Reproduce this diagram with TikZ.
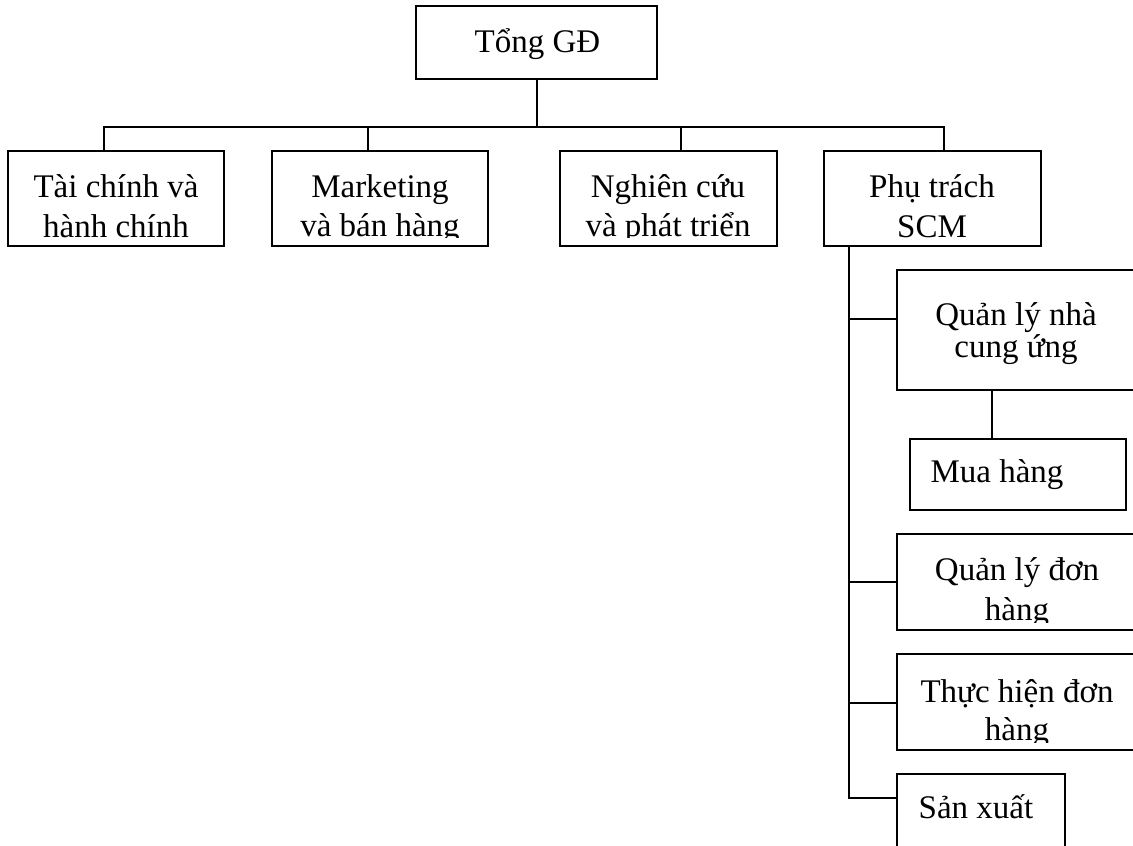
\documentclass[tikz,border=0pt]{standalone}
\usepackage{fontspec}
\setmainfont{Liberation Serif}
\begin{document}
\begin{tikzpicture}[x=1pt,y=-1pt]
\tikzset{
  unit/.style={draw, line width=2pt, rectangle, inner sep=0pt, outer sep=0pt},
  lbl/.style={anchor=base, inner sep=0pt, outer sep=0pt, font=\fontsize{33}{40}\selectfont},
  wire/.style={line width=2pt},
}
\useasboundingbox (0,0) rectangle (1133,846);

% ---- boxes ----
\node[unit, minimum width=241pt, minimum height=73pt] (top)  at (536.5,42.5) {};
\node[unit, minimum width=216pt, minimum height=95pt] (tai)  at (116,198.5) {};
\node[unit, minimum width=216pt, minimum height=95pt] (mkt)  at (380,198.5) {};
\node[unit, minimum width=217pt, minimum height=95pt] (ngh)  at (668.5,198.5) {};
\node[unit, minimum width=217pt, minimum height=95pt] (phu)  at (932.5,198.5) {};
\node[unit, minimum width=240pt, minimum height=120pt] (qlnc) at (1017,330) {};
\node[unit, minimum width=216pt, minimum height=71pt] (mua)  at (1018,474.5) {};
\node[unit, minimum width=240pt, minimum height=96pt] (qldh) at (1017,582) {};
\node[unit, minimum width=240pt, minimum height=96pt] (thuc) at (1017,702) {};
\node[unit, minimum width=168pt, minimum height=96pt] (sx)   at (981,822) {};

% ---- labels (clipped to the inner area of each box) ----
\node[lbl] (topL) at (537.5,52) {Tổng GĐ};

\begin{scope}
  \clip (8,151) rectangle (224,238);
  \node[lbl] (tai1) at (116,197) {Tài chính và};
  \node[lbl] (tai2) at (116,237) {hành chính};
\end{scope}
\begin{scope}
  \clip (272,151) rectangle (488,237);
  \node[lbl] (mkt1) at (380,197) {Marketing};
  \node[lbl] (mkt2) at (380,236) {và bán hàng};
\end{scope}
\begin{scope}
  \clip (560,151) rectangle (777,237);
  \node[lbl] (ngh1) at (668,197) {Nghiên cứu};
  \node[lbl] (ngh2) at (668,236) {và phát triển};
\end{scope}
\begin{scope}
  \clip (824,151) rectangle (1041,238);
  \node[lbl] (phu1) at (932,197) {Phụ trách};
  \node[lbl] (phu2) at (932,237) {SCM};
\end{scope}

\node[lbl] (qlnc1) at (1016,325) {Quản lý nhà};
\node[lbl] (qlnc2) at (1016,357) {cung ứng};
\node[lbl] (muaL)  at (997,482) {Mua hàng};

\begin{scope}
  \clip (897,534) rectangle (1137,622);
  \node[lbl] (qldh1) at (1017,580) {Quản lý đơn};
  \node[lbl] (qldh2) at (1017,620) {hàng};
\end{scope}
\begin{scope}
  \clip (897,654) rectangle (1137,742);
  \node[lbl] (thuc1) at (1017,702) {Thực hiện đơn};
  \node[lbl] (thuc2) at (1017,740) {hàng};
\end{scope}
\node[lbl] (sxL) at (976,818) {Sản xuất};

% ---- top level connectors ----
\coordinate (busL) at (104,127);
\coordinate (busM) at (368,127);
\coordinate (busN) at (681,127);
\coordinate (busR) at (944,127);
\draw[wire] (top.south) -- (top.south |- busL);
\draw[wire] (busL |- tai.north) -- (busL) -- (busR) -- (busR |- phu.north);
\draw[wire] (busM) -- (busM |- mkt.north);
\draw[wire] (busN) -- (busN |- ngh.north);

% ---- SCM branch ----
\coordinate (b1) at (849,319);
\coordinate (b2) at (849,582);
\coordinate (b3) at (849,703);
\coordinate (b4) at (849,798);
\draw[wire] (b1 |- phu.south) -- (b4) -- (b4 -| sx.west);
\draw[wire] (b1) -- (b1 -| qlnc.west);
\draw[wire] (b2) -- (b2 -| qldh.west);
\draw[wire] (b3) -- (b3 -| thuc.west);
\coordinate (mq) at (992,390);
\draw[wire] (mq) -- (mq |- mua.north);
\end{tikzpicture}
\end{document}
